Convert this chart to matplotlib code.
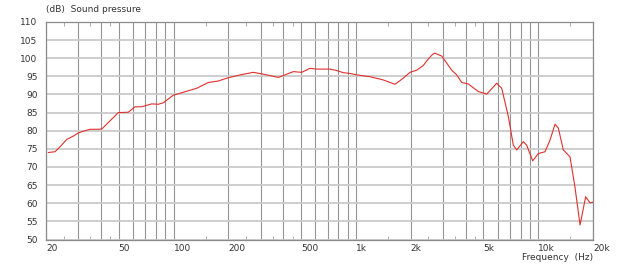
import numpy as np
import matplotlib
matplotlib.use('Agg')
import matplotlib.pyplot as plt
from matplotlib.ticker import FuncFormatter

# frequency response
freq = [20.6, 22.4, 23.9, 26.0, 28.2, 30.1, 32.7, 34.9, 39.5, 40.7,
        49.8, 56.5, 61.5, 66.9, 75.9, 82.6, 87.9, 99.8, 113, 134,
        155, 176, 196, 232, 274, 311, 376, 454, 504, 560,
        610, 721, 785, 853, 928, 1010, 1194, 1414, 1638, 1818,
        1980, 2155, 2342, 2450, 2600, 2700, 2954, 3352, 3570, 3802,
        4134, 4690, 5216, 5916, 6300, 6852, 7294, 7616, 8280, 8636,
        9316, 10000, 10880, 11590, 12350, 12880, 13710, 14920, 15880, 16940,
        18180, 19200, 20000]
spl = [74.0, 74.2, 75.6, 77.6, 78.5, 79.4, 80.0, 80.4, 80.4, 80.6,
       85.0, 85.1, 86.6, 86.6, 87.4, 87.3, 87.7, 89.8, 90.6, 91.7,
       93.3, 93.7, 94.5, 95.4, 96.1, 95.6, 94.7, 96.3, 96.1, 97.2,
       97.0, 97.0, 96.6, 96.0, 95.8, 95.4, 94.9, 94.0, 92.8, 94.5,
       96.1, 96.7, 98.0, 99.3, 100.8, 101.4, 100.6, 96.7, 95.4, 93.3,
       92.9, 90.8, 90.1, 93.1, 91.7, 83.9, 76.0, 74.7, 77.0, 76.0,
       71.7, 73.7, 74.2, 77.4, 81.8, 80.7, 74.7, 72.8, 64.5, 54.0,
       61.8, 60.1, 60.3]

grid_freqs = [30, 40, 50, 60, 70, 80, 90, 100, 200, 300, 400, 500, 600, 700, 800, 900,
              1000, 2000, 3000, 4000, 5000, 6000, 7000, 8000, 9000, 10000]
label_freqs = [20, 50, 100, 200, 500, 1000, 2000, 5000, 10000, 20000]
label_text = ['20', '50', '100', '200', '500', '1k', '2k', '5k', '10k', '20k']
small_ticks = [25, 35, 45, 150, 250, 350, 450, 1500, 2500, 3500, 4500, 15000]
db_ticks = np.arange(50, 111, 5)

fig = plt.figure(figsize=(6.4, 2.65), dpi=100)
ax = fig.add_axes([0.0719, 0.0962, 0.855, 0.821])

ax.plot(freq, spl, color='#e0302c', linewidth=0.8, zorder=3)

ax.set_xscale('log')
ax.set_xlim(20, 20000)
ax.set_ylim(50, 110)

# vertical grid lines (darker) and labelled ticks
ax.set_xticks(sorted(set(grid_freqs + label_freqs)))
lab = dict(zip(label_freqs, label_text))
ax.xaxis.set_major_formatter(FuncFormatter(lambda v, p: lab.get(int(round(v)), '')))
ax.set_xticks(small_ticks, minor=True)
ax.xaxis.set_minor_formatter(FuncFormatter(lambda v, p: ''))
ax.tick_params(axis='x', which='major', length=0, pad=3, labelsize=6.5, labelcolor='#333333')
ax.tick_params(axis='x', which='minor', direction='in', length=3, width=0.6,
               color='#a0a0a0', top=True, bottom=True)
for t in ax.get_xticklabels():
    t.set_ha('left')
ax.grid(axis='x', which='major', color='#949494', linewidth=0.8)

ax.set_yticks(db_ticks)
ax.tick_params(axis='y', length=0, pad=6, labelsize=6.5, labelcolor='#333333')
ax.grid(axis='y', color='#cacaca', linewidth=1.3)
ax.set_axisbelow(True)

for s in ax.spines.values():
    s.set_color('#8a8a8a')
    s.set_linewidth(0.9)

fig.text(46/640, 1 - 9/265, '(dB)  Sound pressure', fontsize=6.5, color='#333333',
         ha='left', va='center')
fig.text(593/640, 1 - 257/265, 'Frequency  (Hz)', fontsize=6.5, color='#333333',
         ha='right', va='center')

plt.savefig('out.png', dpi=100)
